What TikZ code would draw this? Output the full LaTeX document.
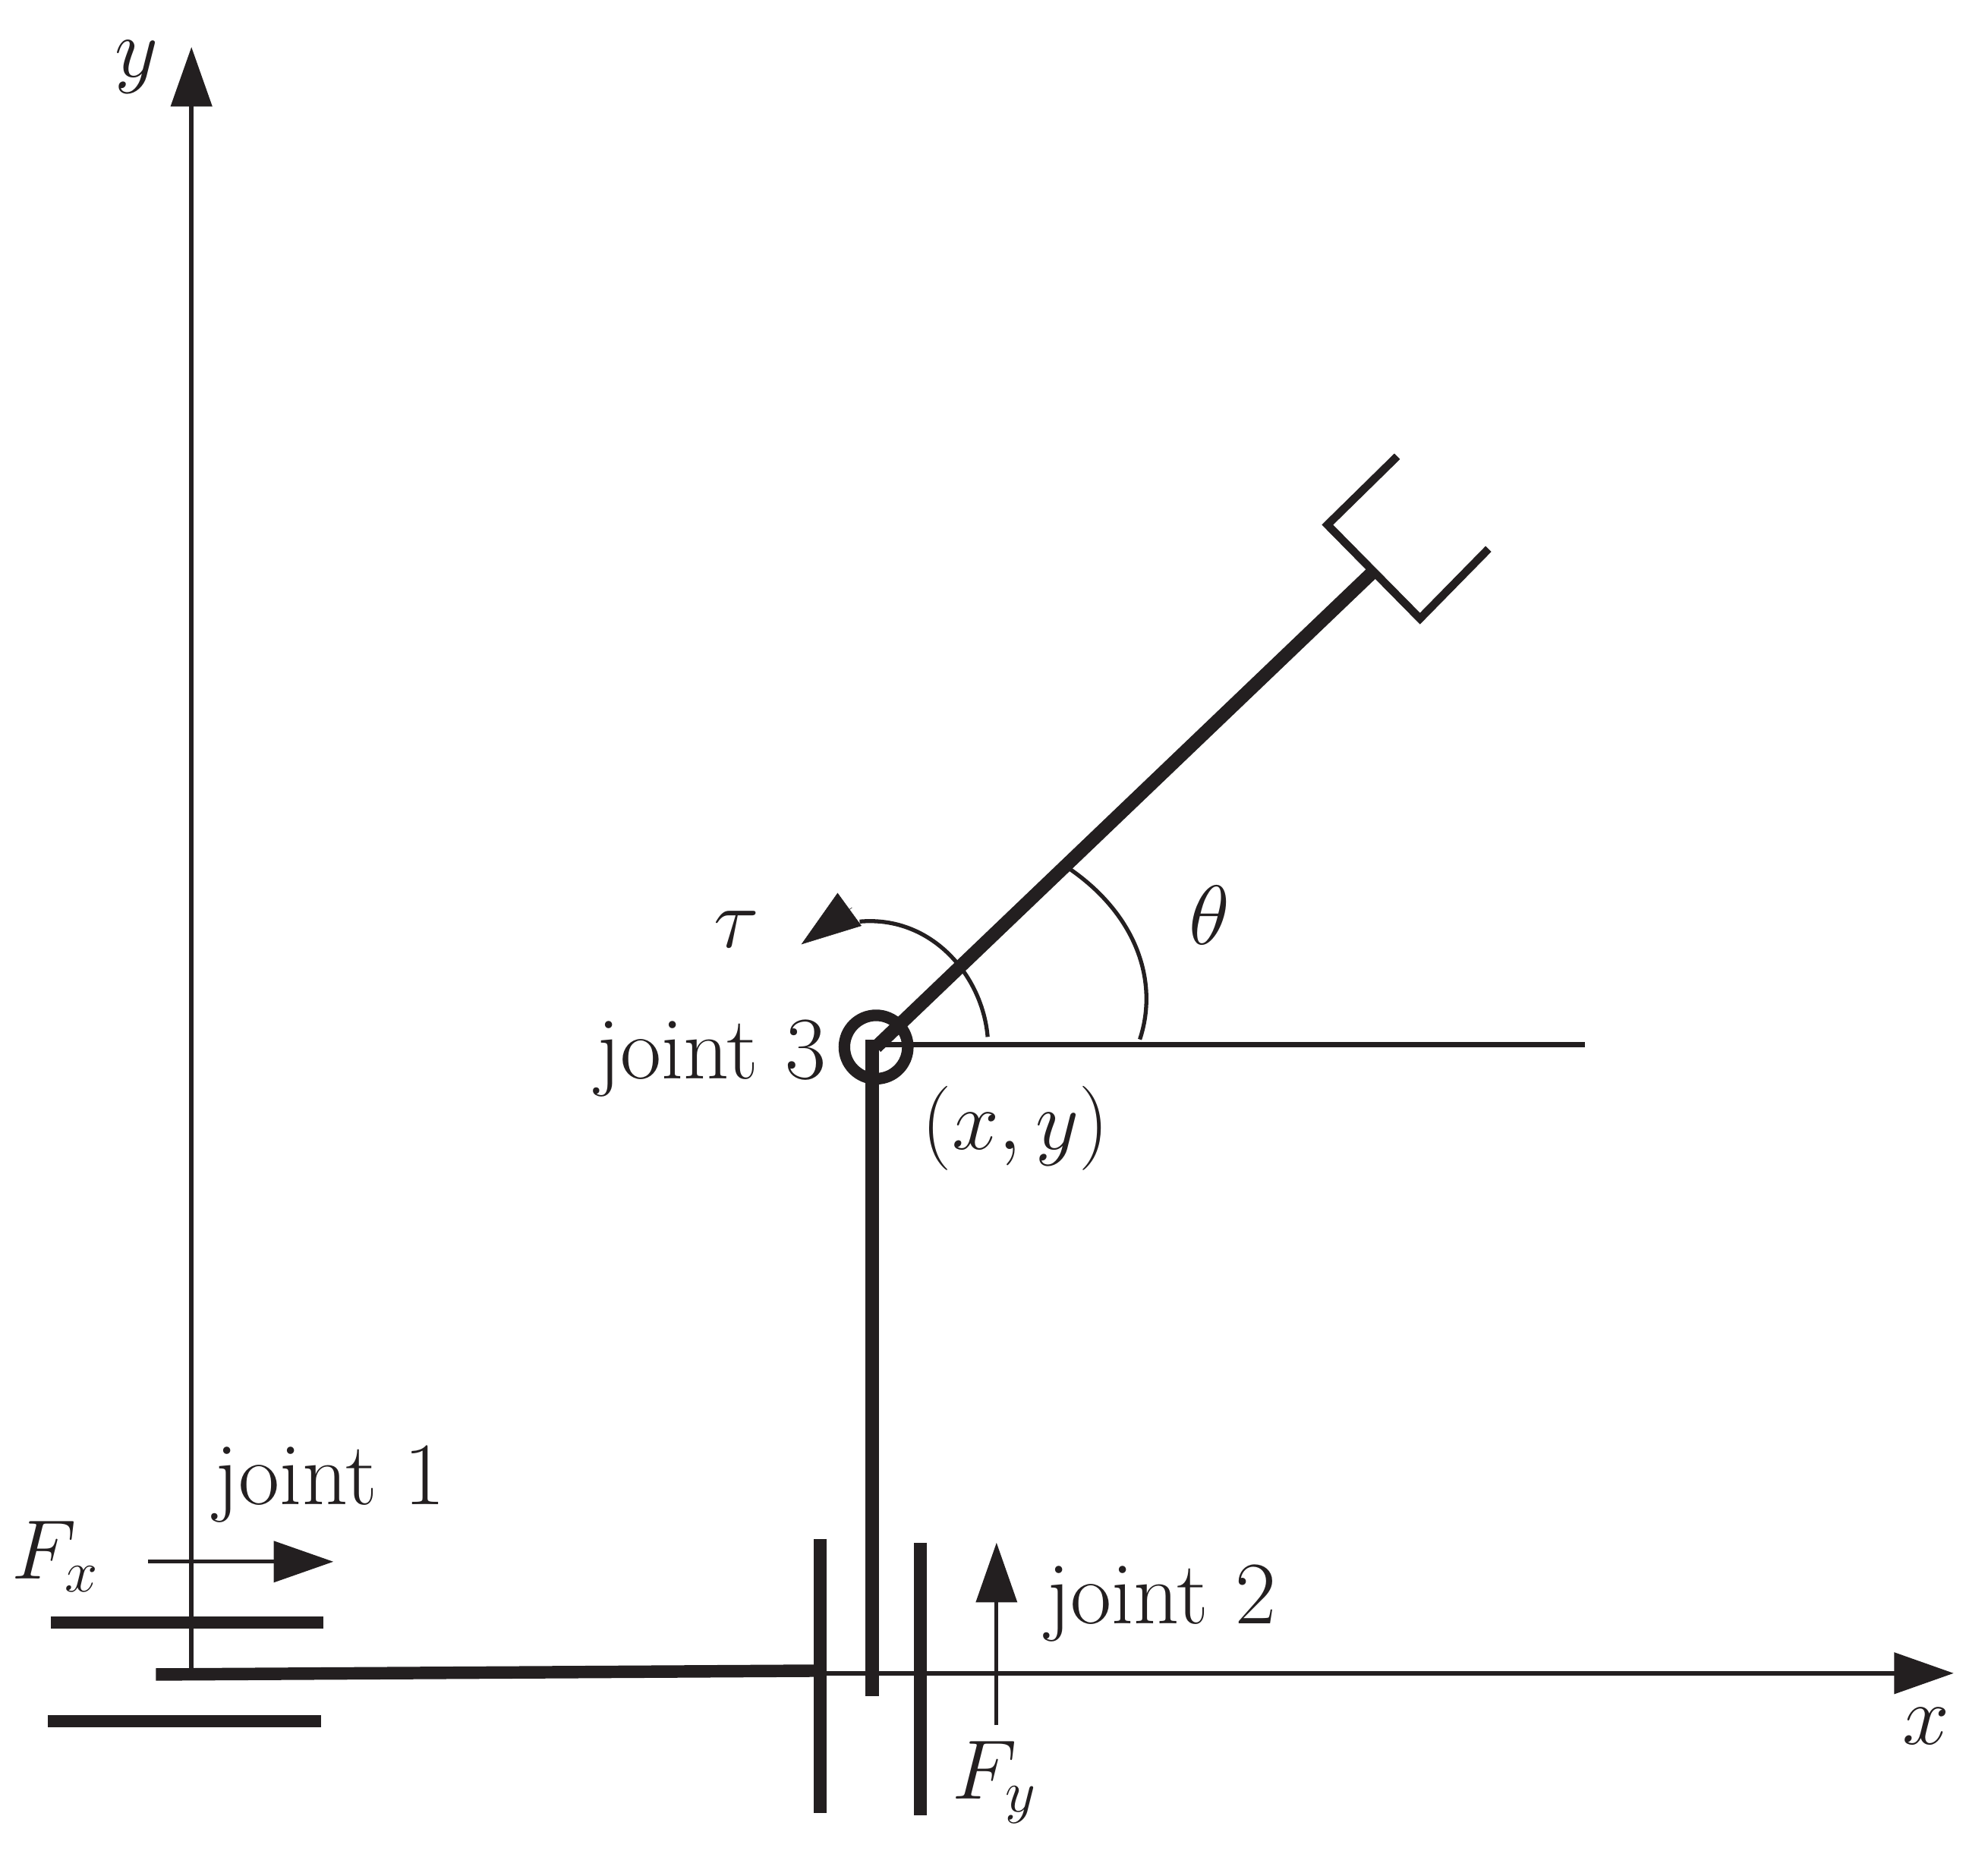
\documentclass[tikz,border=0pt]{standalone}
\usepackage{fix-cm}
\usetikzlibrary{arrows.meta}
\definecolor{inkblack}{HTML}{231F20}
\begin{document}
\begin{tikzpicture}[x=0.01cm, y=-0.01cm, color=inkblack, line join=miter,
	>={Triangle[length=4.7mm, width=3.2mm]},
	axisline/.style = {line width=1.1pt},
	forceline/.style = {line width=0.9pt, ->},
	guide/.style = {line width=2.8pt},
	linkline/.style = {line width=3pt},
	gripper/.style = {line width=1.8pt},
	anglearc/.style = {line width=0.9pt},
	lbl/.style = {inner sep=0pt, font=\fontsize{20}{24}\selectfont},
	mathlbl/.style = {inner sep=0pt, font=\fontsize{18.9}{23}\selectfont}]
	\useasboundingbox (0,0) rectangle (1568,1462.6);
	\coordinate (origin) at (151,1320);
	\coordinate (ytip) at (151,37);
	\coordinate (xtip) at (1541,1320);
	\coordinate (joint3) at (691,826);
	\coordinate (wrist) at (1082,452);
	\coordinate (hstart) at (691,824);
	\coordinate (horiz) at (1250,824);
	% axes
	\draw[axisline, ->] (origin) -- (ytip);
	\draw[axisline, ->] (origin) -- (xtip);
	\node[mathlbl] (ylabel) at (108,53) {$y$};
	\node[mathlbl] (xlabel) at (1519,1362) {$x$};
	% joint 1
	\coordinate (g1a) at (40,1280);
	\coordinate (g1b) at (255,1280);
	\coordinate (g2a) at (38,1358);
	\coordinate (g2b) at (253,1358);
	\draw[guide] (g1a) -- (g1b);
	\draw[guide] (g2a) -- (g2b);
	\coordinate (base1) at (123,1321);
	\coordinate (base2) at (645,1318);
	\draw[guide] (base1) -- (base2);
	\coordinate (fxa) at (117,1232);
	\coordinate (fxb) at (263,1232);
	\draw[forceline] (fxa) -- (fxb);
	\node[mathlbl] (fxlabel) at (44,1228) {$F_x$};
	\node[lbl] (joint1label) at (260,1171) {joint 1};
	% joint 2
	\coordinate (g3a) at (647,1214);
	\coordinate (g3b) at (647,1430);
	\coordinate (g4a) at (726,1217);
	\coordinate (g4b) at (726,1432);
	\draw[guide] (g3a) -- (g3b);
	\draw[guide] (g4a) -- (g4b);
	\coordinate (fya) at (786,1361);
	\coordinate (fyb) at (786,1217);
	\draw[forceline] (fya) -- (fyb);
	\node[mathlbl] (fylabel) at (785,1406) {$F_y$};
	\node[lbl] (joint2label) at (916,1265) {joint 2};
	% links
	\coordinate (stem1) at (688,1338);
	\coordinate (stem2) at (688,820);
	\draw[linkline] (stem1) -- (stem2);
	\draw[linkline] (joint3) -- (wrist);
	\node[draw, circle, line width=2.6pt, minimum size=0.5cm, inner sep=0pt] (ring) at (joint3) {};
	\draw[axisline] (hstart) -- (horiz);
	\node[lbl] (joint3label) at (561,835) {joint 3};
	\node[mathlbl] (xylabel) at (801,890) {$(x,y)$};
	% gripper
	\draw[gripper] (1102,360) -- (1047,414) -- (1120,488) -- (1174,433);
	% angles
	\draw[anglearc] (899,820) .. controls (914,775) and (897,722) .. (843,685);
	\node[mathlbl] (thetalabel) at (954,722) {$\theta$};
	\draw[anglearc] (779,818) .. controls (775,770) and (735,722) .. (678,727);
	\coordinate (taubase) at (672,716);
	\coordinate (tautip) at (632,745);
	\draw[line width=0.1pt, ->] (taubase) -- (tautip);
	\node[mathlbl] (taulabel) at (581,733) {$\tau$};
\end{tikzpicture}
\end{document}
